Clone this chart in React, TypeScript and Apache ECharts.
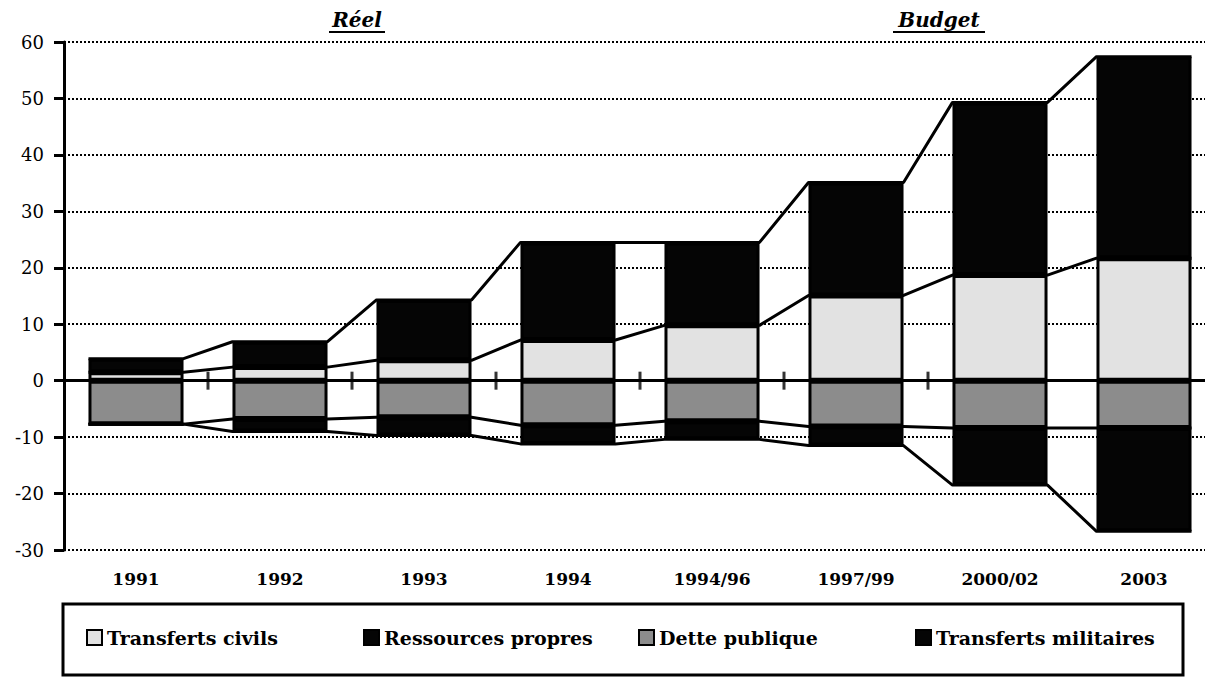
import React, { useEffect, useRef } from "react";
import * as echarts from "echarts";

const categories = ["1991", "1992", "1993", "1994", "1994/96", "1997/99", "2000/02", "2003"];
const transfertsCivils = [1.5, 2.4, 3.6, 7.2, 9.8, 15.1, 18.7, 21.7];
const transfertsMilitaires = [2.4, 4.5, 10.7, 17.3, 14.7, 20.0, 30.6, 35.7];
const dettePublique = [-7.7, -6.8, -6.5, -7.9, -7.2, -8.1, -8.4, -8.4];
const ressourcesPropres = [0, -2.2, -3.2, -3.3, -3.2, -3.4, -10.1, -18.3];
const yMin = -30;
const yMax = 60;
const yInterval = 10;
const sectionTitles = ["Réel", "Budget"];

const BAR_FRAC = 0.66;
const SERIF = "'DejaVu Serif', 'Liberation Serif', serif";

function connector(vals: number[]) {
  const h = BAR_FRAC / 2;
  const pts: number[][] = [];
  vals.forEach((v, i) => {
    pts.push([i - h, v]);
    pts.push([i + h, v]);
  });
  return pts;
}

export default function App() {
  const ref = useRef<HTMLDivElement>(null);
  useEffect(() => {
    document.body.style.margin = "0";
    document.body.style.overflow = "hidden";
    const chart = echarts.init(ref.current!, null, { renderer: "svg" });
    const cumCivils = transfertsCivils;
    const cumTotal = transfertsCivils.map((v, i) => v + transfertsMilitaires[i]);
    const cumDette = dettePublique;
    const cumNeg = dettePublique.map((v, i) => v + ressourcesPropres[i]);
    const tickPts = categories.slice(1, -1).map((_, i) => [i + 0.5, 0]);
    const border = { borderColor: "#000", borderWidth: 3 };
    const lineSeries = (data: number[][]) => ({
      type: "line",
      xAxisIndex: 1,
      data,
      symbol: "none",
      lineStyle: { color: "#000", width: 3 },
      z: 5,
      silent: true,
    });
    const legendText = { fontFamily: SERIF, fontWeight: "bold", fontSize: 19, color: "#000" };
    const mkLegend = (name: string, left: number) => ({
      data: [name],
      left,
      top: 628,
      padding: 0,
      icon: "rect",
      itemWidth: 15,
      itemHeight: 15,
      itemGap: 4,
      selectedMode: false,
      textStyle: legendText,
    });
    chart.setOption({
      animation: false,
      backgroundColor: "#fff",
      grid: { left: 64, right: 4, top: 42, bottom: 129 },
      legend: [
        mkLegend("Transferts civils", 86),
        mkLegend("Ressources propres", 363),
        mkLegend("Dette publique", 638),
        mkLegend("Transferts militaires", 915),
      ],
      xAxis: [
        {
          type: "category",
          data: categories,
          position: "bottom",
          axisLine: { show: false, onZero: false },
          axisTick: { show: false },
          axisLabel: {
            margin: 20,
            fontFamily: SERIF,
            fontWeight: "bold",
            fontSize: 17,
            color: "#000",
          },
        },
        {
          type: "value",
          min: -0.5,
          max: categories.length - 0.5,
          position: "bottom",
          axisLine: { show: true, onZero: true, lineStyle: { color: "#000", width: 3 } },
          axisTick: { show: false },
          axisLabel: { show: false },
          splitLine: { show: false },
        },
      ],
      yAxis: {
        type: "value",
        min: yMin,
        max: yMax,
        interval: yInterval,
        axisLine: { show: true, onZero: false, lineStyle: { color: "#000", width: 3 } },
        axisTick: { show: true, length: 10, lineStyle: { color: "#000", width: 3 } },
        axisLabel: { margin: 20, fontFamily: SERIF, fontSize: 18, color: "#000" },
        splitLine: { show: true, lineStyle: { color: "#000", width: 2, type: [2, 2] } },
      },
      series: [
        {
          name: "Transferts civils",
          type: "bar",
          stack: "s",
          barWidth: BAR_FRAC * 100 + "%",
          data: transfertsCivils,
          itemStyle: { color: "#e2e2e2", ...border },
          z: 2,
        },
        {
          name: "Transferts militaires",
          type: "bar",
          stack: "s",
          data: transfertsMilitaires,
          itemStyle: { color: "#050505", ...border },
          z: 2,
        },
        {
          name: "Dette publique",
          type: "bar",
          stack: "s",
          data: dettePublique,
          itemStyle: { color: "#8c8c8c", ...border },
          z: 2,
        },
        {
          name: "Ressources propres",
          type: "bar",
          stack: "s",
          data: ressourcesPropres,
          itemStyle: { color: "#050505", ...border },
          z: 2,
        },
        lineSeries(connector(cumCivils)),
        lineSeries(connector(cumTotal)),
        lineSeries(connector(cumDette)),
        lineSeries(connector(cumNeg)),
        {
          type: "scatter",
          xAxisIndex: 1,
          data: tickPts,
          symbol: "rect",
          symbolSize: [3, 18],
          itemStyle: { color: "#000" },
          z: 6,
          silent: true,
        },
      ],
      graphic: [
        {
          type: "rect",
          shape: { x: 63, y: 604, width: 1120, height: 71 },
          style: { fill: "none", stroke: "#000", lineWidth: 3 },
          silent: true,
        },
        {
          type: "text",
          x: 357,
          y: 20,
          style: {
            text: sectionTitles[0],
            font: "italic bold 20px " + SERIF,
            fill: "#000",
            textAlign: "center",
            textVerticalAlign: "middle",
          },
        },
        {
          type: "line",
          shape: { x1: 329, y1: 32, x2: 385, y2: 32 },
          style: { stroke: "#000", lineWidth: 2 },
        },
        {
          type: "text",
          x: 939,
          y: 20,
          style: {
            text: sectionTitles[1],
            font: "italic bold 20px " + SERIF,
            fill: "#000",
            textAlign: "center",
            textVerticalAlign: "middle",
          },
        },
        {
          type: "line",
          shape: { x1: 893, y1: 32, x2: 985, y2: 32 },
          style: { stroke: "#000", lineWidth: 2 },
        },
      ],
    });
    return () => chart.dispose();
  }, []);
  return <div ref={ref} style={{ width: 1220, height: 679 }} />;
}
